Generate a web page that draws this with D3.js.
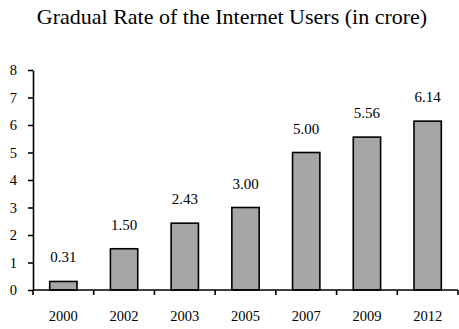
<!DOCTYPE html>
<html>
<head>
<meta charset="utf-8">
<script src="https://cdn.jsdelivr.net/npm/d3@7"></script>
<style>
  body { margin: 0; background: #fff; }
  svg text { font-family: "Liberation Serif", "Times New Roman", serif; fill: #000; }
</style>
</head>
<body>
<svg id="chart" width="459" height="329"></svg>
<script>
// chart data
var years = ["2000", "2002", "2003", "2005", "2007", "2009", "2012"];
var users = [0.31, 1.50, 2.43, 3.00, 5.00, 5.56, 6.14];
var yTicks = [0, 1, 2, 3, 4, 5, 6, 7, 8];

var svg = d3.select("#chart");
var margin = {left: 33, right: 1, top: 70, bottom: 39};
var W = 459, H = 329;

var x = d3.scaleBand().domain(years)
    .range([margin.left, W - margin.right])
    .paddingInner(0.55).paddingOuter(0.275);
var y = d3.scaleLinear().domain([0, 8]).range([H - margin.bottom, margin.top]);

// title
svg.append("text")
    .attr("x", 232).attr("y", 24)
    .attr("text-anchor", "middle")
    .style("font-size", "22px")
    .text("Gradual Rate of the Internet Users (in crore)");

// bars
svg.selectAll("rect.bar").data(users).enter().append("rect")
    .attr("class", "bar")
    .attr("x", function(d, i) { return x(years[i]); })
    .attr("y", function(d) { return y(d); })
    .attr("width", x.bandwidth())
    .attr("height", function(d) { return y(0) - y(d); })
    .attr("fill", "#a6a6a6")
    .attr("stroke", "#000")
    .attr("stroke-width", 1.6);

// value labels
svg.selectAll("text.val").data(users).enter().append("text")
    .attr("class", "val")
    .attr("x", function(d, i) { return x(years[i]) + x.bandwidth() / 2; })
    .attr("y", function(d) { return y(d) - 19; })
    .attr("text-anchor", "middle")
    .style("font-size", "15px")
    .text(function(d) { return d.toFixed(2); });

// y axis
var yAxis = svg.append("g")
    .attr("transform", "translate(" + margin.left + ",0)")
    .call(d3.axisLeft(y).tickValues(yTicks).tickSize(5).tickSizeOuter(0).tickPadding(11));

// x axis: ticks sit between categories
var xAxis = svg.append("g")
    .attr("transform", "translate(0," + y(0) + ")");
xAxis.append("line")
    .attr("x1", margin.left).attr("x2", W - margin.right)
    .attr("stroke", "#000").attr("stroke-width", 1.6);
var step = x.step();
var bounds = d3.range(years.length + 1).map(function(i) { return margin.left + i * step; });
xAxis.selectAll("line.tk").data(bounds).enter().append("line")
    .attr("class", "tk")
    .attr("x1", function(d) { return d; }).attr("x2", function(d) { return d; })
    .attr("y1", 0).attr("y2", 5)
    .attr("stroke", "#000").attr("stroke-width", 1.6);
xAxis.selectAll("text").data(years).enter().append("text")
    .attr("x", function(d) { return x(d) + x.bandwidth() / 2; })
    .attr("y", 31)
    .attr("text-anchor", "middle")
    .style("font-size", "14.5px")
    .text(function(d) { return d; });

yAxis.selectAll(".domain, .tick line").attr("stroke", "#000").attr("stroke-width", 1.6);
yAxis.selectAll("text").style("font-size", "14.5px").attr("font-family", null);
</script>
</body>
</html>
